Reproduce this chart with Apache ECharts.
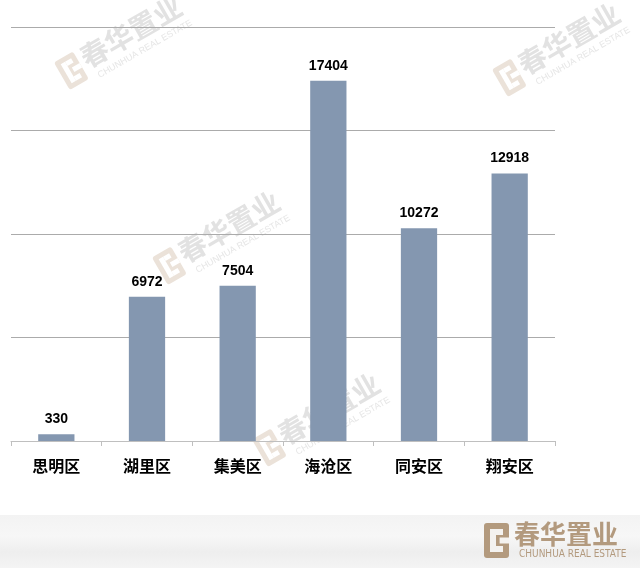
<!DOCTYPE html>
<html>
<head>
<meta charset="utf-8">
<script src="https://cdn.jsdelivr.net/npm/echarts@6/dist/echarts.min.js"></script>
<style>html,body{margin:0;padding:0;background:#fff;}#c{width:640px;height:568px;}</style>
</head>
<body>
<div id="c"></div>
<script>
const categories = ['思明区', '湖里区', '集美区', '海沧区', '同安区', '翔安区'];
const values = [330, 6972, 7504, 17404, 10272, 12918];
const yMin = 0, yMax = 20000, yInterval = 5000;

const chart = echarts.init(document.getElementById('c'));

function logoIcon(x, y, w, h, fg, bg, z) {
  const t = Math.round(w * 0.24);
  return [
    { type: 'rect', z: z, shape: { x: x, y: y, width: w, height: h, r: 3 }, style: { fill: fg } },
    { type: 'rect', z: z, shape: { x: x + t, y: y + t, width: t, height: h - 2 * t }, style: { fill: bg } },
    { type: 'rect', z: z, shape: { x: x + 2 * t, y: y + t, width: w - 3 * t, height: t }, style: { fill: bg } },
    { type: 'rect', z: z, shape: { x: x + 2 * t, y: y + h - 2 * t, width: w - 3 * t, height: t }, style: { fill: bg } },
    { type: 'rect', z: z, shape: { x: x + 2.6 * t, y: y + h / 2 - t / 2, width: w - 2.6 * t, height: t }, style: { fill: bg } }
  ];
}

function watermark(x, y) {
  return {
    type: 'group', x: x, y: y, rotation: Math.PI / 6, silent: true,
    children: logoIcon(-66, -18, 22, 32, '#ebe2d9', '#ffffff', 0).concat([
      { type: 'text', z: 0, style: { x: -40, y: -6, text: '春华置业', font: 'bold 28px "Noto Sans CJK SC"', fill: '#e2e2e2', verticalAlign: 'middle' } },
      { type: 'text', z: 0, style: { x: -34, y: 16, text: 'CHUNHUA REAL ESTATE', font: '9px "Liberation Sans"', fill: '#e6e6e6', verticalAlign: 'middle' } }
    ])
  };
}

chart.setOption({
  animation: false,
  backgroundColor: '#ffffff',
  grid: { left: 11, right: 85, top: 27, bottom: 127 },
  xAxis: {
    type: 'category', data: categories,
    axisLine: { lineStyle: { color: '#bfbfbf', width: 1 } },
    axisTick: { show: true, length: 5, lineStyle: { color: '#bfbfbf' } },
    axisLabel: { margin: 17, color: '#000', fontSize: 16, fontWeight: 'bold', fontFamily: '"Noto Sans CJK SC"' }
  },
  yAxis: {
    type: 'value', min: yMin, max: yMax, interval: yInterval,
    axisLabel: { show: false }, axisLine: { show: false }, axisTick: { show: false },
    splitLine: { lineStyle: { color: '#ababab', width: 1 } }
  },
  series: [{
    type: 'bar', data: values, barWidth: '40%', z: 5,
    itemStyle: { color: '#8497b0' },
    label: { show: true, position: 'top', distance: 8, color: '#000', fontSize: 14, fontWeight: 'bold', fontFamily: '"Liberation Sans"' }
  }],
  graphic: [
    watermark(120, 45),
    watermark(558, 52),
    watermark(218, 240),
    watermark(318, 422),
    {
      type: 'group', silent: true,
      children: [
        {
          type: 'rect', z: 1,
          shape: { x: 0, y: 515, width: 640, height: 53 },
          style: { fill: { type: 'linear', x: 0, y: 0, x2: 0, y2: 1, colorStops: [
            { offset: 0, color: '#f3f3f3' }, { offset: 0.4, color: '#f7f7f7' },
            { offset: 0.7, color: '#eeeeee' }, { offset: 1, color: '#f4f4f4' } ] } }
        }
      ].concat(logoIcon(484, 523, 25, 35, '#b39a7e', '#f4f2ef', 2)).concat([
        { type: 'text', z: 2, style: { x: 514, y: 534, text: '春华置业', font: 'bold 26px "Noto Sans CJK SC"', fill: '#b39a7e', verticalAlign: 'middle' } },
        { type: 'text', z: 2, style: { x: 519, y: 554, text: 'CHUNHUA REAL ESTATE', font: '10px "Liberation Sans Narrow", "DejaVu Sans Condensed", sans-serif', fill: '#b39a7e', verticalAlign: 'middle' } }
      ])
    }
  ]
});
</script>
</body>
</html>
